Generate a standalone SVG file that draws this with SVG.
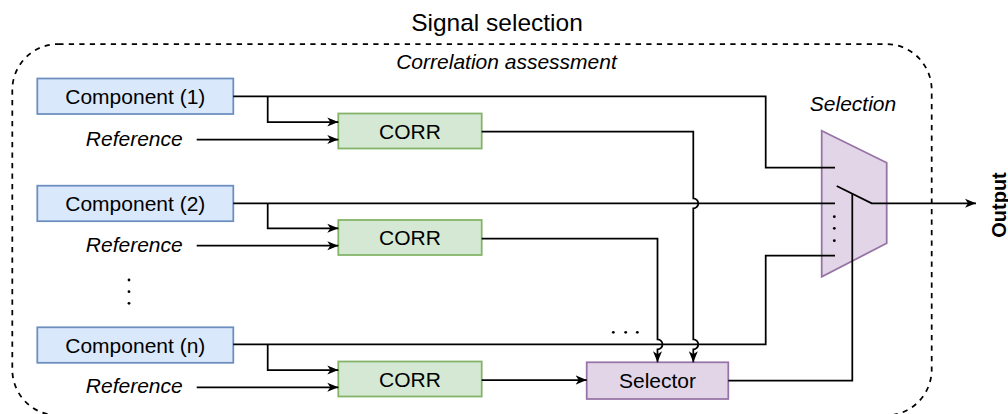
<svg xmlns="http://www.w3.org/2000/svg" width="1008" height="414" viewBox="0 0 1008 414">
<style>
  text { font-family: "Liberation Sans", Arial, Helvetica, sans-serif; fill: #000; }
  .lbl { font-size: 21px; text-anchor: middle; }
  .it { font-style: italic; }
  .comp { fill: #dae8fc; stroke: #6c8ebf; stroke-width: 1.75; }
  .corr { fill: #d5e8d4; stroke: #82b366; stroke-width: 1.75; }
  .purp { fill: #e1d5e7; stroke: #9673a6; stroke-width: 1.75; }
  .wire { fill: none; stroke: #000; stroke-width: 1.75; }
  .arr { marker-end: url(#arrow); }
  .dot { fill: #000; }
</style>
<defs>
  <marker id="arrow" markerUnits="userSpaceOnUse" markerWidth="12" markerHeight="10" viewBox="0 0 12 10" refX="11" refY="5" orient="auto">
    <path d="M0,0.5 L11,5 L0,9.5 L3,5 Z" fill="#000"/>
  </marker>
</defs>

<g id="container">
  <rect x="12.3" y="44" width="919.4" height="371.5" rx="46" ry="46" fill="none" stroke="#000" stroke-width="1.75" stroke-dasharray="5.25 5.25"/>
  <text class="lbl" x="497" y="31" style="font-size:24.5px">Signal selection</text>
  <text class="lbl it" x="506.5" y="69">Correlation assessment</text>
</g>

<g id="component1">
  <rect class="comp" x="37.3" y="78.5" width="196" height="35.5"/>
  <text class="lbl" x="135.3" y="104">Component (1)</text>
</g>
<g id="reference1"><text class="lbl it" x="134.3" y="145.5">Reference</text></g>
<g id="corr1">
  <rect class="corr" x="338.3" y="113.5" width="143.4" height="35"/>
  <text class="lbl" x="410" y="138.5">CORR</text>
</g>

<g id="component2">
  <rect class="comp" x="37.3" y="185.7" width="196" height="35.5"/>
  <text class="lbl" x="135.3" y="211">Component (2)</text>
</g>
<g id="reference2"><text class="lbl it" x="134.3" y="251.7">Reference</text></g>
<g id="corr2">
  <rect class="corr" x="338.3" y="220" width="143.4" height="35"/>
  <text class="lbl" x="410" y="245">CORR</text>
</g>

<g id="vdots">
  <circle class="dot" cx="129" cy="280" r="1.4"/>
  <circle class="dot" cx="129" cy="291.7" r="1.4"/>
  <circle class="dot" cx="129" cy="303.3" r="1.4"/>
</g>

<g id="componentn">
  <rect class="comp" x="37.3" y="327.3" width="196" height="35.5"/>
  <text class="lbl" x="135.3" y="352.5">Component (n)</text>
</g>
<g id="referencen"><text class="lbl it" x="134.3" y="393.3">Reference</text></g>
<g id="corrn">
  <rect class="corr" x="338.3" y="361.5" width="143.4" height="35"/>
  <text class="lbl" x="410" y="386.5">CORR</text>
</g>

<g id="hdots">
  <circle class="dot" cx="613.3" cy="332.3" r="1.4"/>
  <circle class="dot" cx="625.7" cy="332.3" r="1.4"/>
  <circle class="dot" cx="637.3" cy="332.3" r="1.4"/>
</g>

<g id="selector">
  <rect class="purp" x="586.7" y="362.3" width="141.6" height="36.7"/>
  <text class="lbl" x="657.5" y="388">Selector</text>
</g>

<g id="selection">
  <polygon class="purp" points="821.7,130.7 886.7,162.7 886.7,243.3 821.7,276.7"/>
  <text class="lbl it" x="853" y="111">Selection</text>
  <circle class="dot" cx="834.3" cy="216.7" r="1.4"/>
  <circle class="dot" cx="834.3" cy="228.3" r="1.4"/>
  <circle class="dot" cx="834.3" cy="240.7" r="1.4"/>
</g>

<g id="output">
  <text transform="translate(1006,205) rotate(-90)" style="font-size:20px;font-weight:bold;text-anchor:middle">Output</text>
</g>

<g id="connectors">
  <!-- component 1 -->
  <path class="wire" d="M233.3,96.3 H765.7 V167.7 H835"/>
  <path class="wire arr" d="M267.7,96.3 V122 H338.3"/>
  <path class="wire arr" d="M196.7,139.5 H338.3"/>
  <!-- component 2 -->
  <path class="wire" d="M233.3,203.3 H835"/>
  <path class="wire arr" d="M267.7,203.3 V228.3 H338.3"/>
  <path class="wire arr" d="M196.7,245.7 H338.3"/>
  <!-- component n -->
  <path class="wire" d="M233.3,344.3 H765.7 V255.7 H835"/>
  <path class="wire arr" d="M267.7,344.3 V370 H338.3"/>
  <path class="wire arr" d="M196.7,387.3 H338.3"/>
  <!-- CORR outputs to selector -->
  <path class="wire arr" d="M481.7,131.5 H693.3 V198.3 A5,5 0 0 1 693.3,208.3 V339.3 A5,5 0 0 1 693.3,349.3 V362.3"/>
  <path class="wire arr" d="M481.7,238.5 H657.5 V339.3 A5,5 0 0 1 657.5,349.3 V362.3"/>
  <path class="wire arr" d="M481.7,380 H586.7"/>
  <!-- selector control -->
  <path class="wire" d="M728.3,380.7 H852.3 V193.7"/>
  <!-- switch + output -->
  <path class="wire arr" d="M836.7,186 L871.7,203.3 H976"/>
</g>
</svg>
